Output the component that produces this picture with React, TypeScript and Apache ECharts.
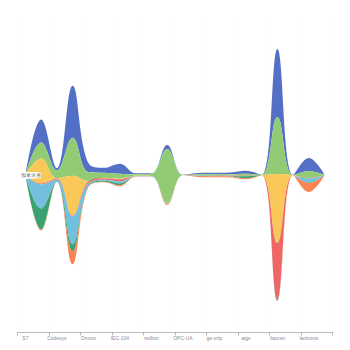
import React, { useEffect, useRef } from 'react';
import * as echarts from 'echarts';

const categories = [
  'S7', 'Modbus', 'Codesys', 'Fox', 'Omron', 'EtherNet/IP', 'IEC-104', 'DNP3', 'redlion', 'ProConOS',
  'OPC-UA', 'MMS', 'ge-srtp', 'HART-IP', 'atgs', 'PCWorx', 'bacnet', 'Niagara', 'lantronix', 'CSPV4',
];

const layerNames = ['美国', '中国', '德国', '局域网络', '法国', '意大利', '加拿大'];

const blueValues = [0, 23, 2, 52, 9, 5, 10, 1, 0.5, 4, 0.3, 1.2, 1.5, 1.8, 3, 0.2, 68, 0.2, 13, 0];
const greenValues = [0, 16, 8, 38, 9, 5, 5, 1.5, 2, 54, 0.3, 1.2, 1.2, 1.2, 2, 0.2, 57, 0.2, 7, 0];
const yellowValues = [0, 25, 0.3, 40, 0.5, 0.3, 0.5, 0.1, 0.1, 0.5, 0, 0, 0, 0, 0, 0, 69, 0, 0, 0];
const redValues = [0, 1, 1, 0.5, 2, 1.5, 2, 0.3, 0.2, 0.3, 0, 0.2, 0.2, 0.2, 0.2, 0, 56, 0, 0.5, 0];
const lightBlueValues = [0, 24, 1.5, 28, 2, 1, 2, 0.2, 0.2, 0.3, 0, 0.2, 0.2, 0.2, 0.2, 0, 0.5, 0, 4, 0];
const darkGreenValues = [0, 21, 0.5, 7, 1, 1, 2, 0.1, 0.1, 0.2, 0, 0.2, 0.4, 0.6, 2, 0, 1, 0, 0.5, 0];
const orangeValues = [0, 1, 0.2, 13, 0.5, 0.5, 1, 0.1, 0.1, 0.8, 0, 1, 1, 1, 1, 0, 0.5, 0, 9, 0];

const layerValues = [blueValues, greenValues, yellowValues, redValues, lightBlueValues, darkGreenValues, orangeValues];

const palette = ['#5470c6', '#91cc75', '#fac858', '#ee6666', '#73c0de', '#3ba272', '#fc8452'];

export default function App() {
  const ref = useRef<HTMLDivElement>(null);
  useEffect(() => {
    const chart = echarts.init(ref.current!, null, { renderer: 'svg' });
    const data: any[] = [];
    layerValues.forEach((vals, li) => {
      vals.forEach((v, k) => data.push([k, v, layerNames[li]]));
    });
    chart.setOption({
      animation: false,
      backgroundColor: '#fff',
      color: palette,
      singleAxis: {
        type: 'category',
        data: categories,
        top: '5%',
        bottom: '5%',
        left: '5%',
        right: '5%',
        axisLabel: { interval: 1, fontSize: 5, margin: 3, color: '#8a8c94' },
        axisTick: { interval: 1, length: 3, lineStyle: { color: '#8a8c94', width: 0.6 } },
        axisLine: { lineStyle: { width: 0.6, color: '#8a8c94' } },
        splitLine: { show: true, interval: 1, lineStyle: { width: 0.5, color: '#eef0f4' } },
      },
      series: [
        {
          type: 'themeRiver',
          data,
          label: {
            fontSize: 5,
            color: '#666',
            textBorderColor: '#fff',
            textBorderWidth: 1.5,
          },
        },
      ],
    });
    return () => chart.dispose();
  }, []);
  return <div ref={ref} style={{ position: 'fixed', left: 0, top: 0, width: 350, height: 350 }} />;
}
